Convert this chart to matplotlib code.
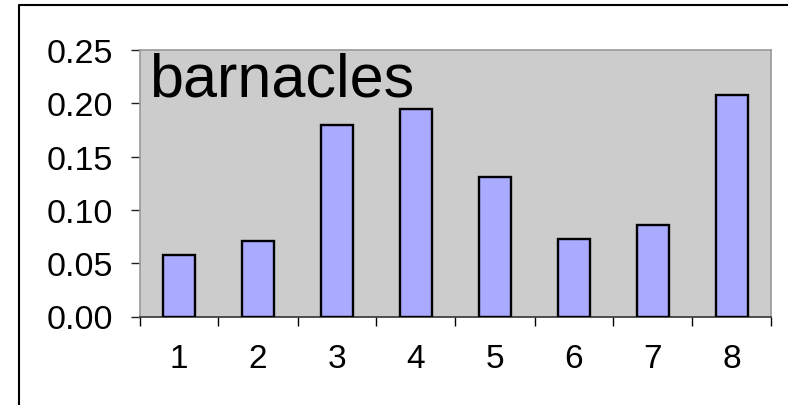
import matplotlib
matplotlib.use('Agg')
import matplotlib.pyplot as plt
from matplotlib.lines import Line2D

plt.rcParams['font.family'] = ['Liberation Sans', 'DejaVu Sans']

# Chart data
categories = [1, 2, 3, 4, 5, 6, 7, 8]
values = [0.058, 0.071, 0.180, 0.195, 0.131, 0.073, 0.086, 0.208]
yticks = [0.00, 0.05, 0.10, 0.15, 0.20, 0.25]
title_text = 'barnacles'


def create_plot():
    fig = plt.figure(figsize=(7.88, 4.06), dpi=100)
    W, H = 788, 406

    # outer chart border: only top and left edges show
    fig.lines.append(Line2D([19 / W, 19 / W, 1.0], [0.0, 1 - 6 / H, 1 - 6 / H],
                            transform=fig.transFigure, color='black', linewidth=1.5))

    ax = fig.add_axes([139.5 / W, 1 - 317.5 / H, (771.5 - 139.5) / W, (317.5 - 51) / H])
    ax.set_facecolor('#cccccc')

    ax.bar(categories, values, width=0.41, color='#aaaaff', edgecolor='black', linewidth=1.7, zorder=3)

    ax.set_xlim(0.5, 8.5)
    ax.set_ylim(0, 0.25)
    ax.set_yticks(yticks)
    ax.set_yticklabels(['{:.2f}'.format(v) for v in yticks])
    ax.set_xticks(categories)
    ax.set_xticks([c + 0.5 for c in [0] + categories], minor=True)
    ax.tick_params(axis='x', which='major', length=0, pad=19, labelsize=24)
    ax.tick_params(axis='x', which='minor', length=6.5, width=1, color='black', direction='out')
    ax.tick_params(axis='y', length=6.8, width=1, color='#222222', pad=12, labelsize=24.5)

    for side in ['top', 'right', 'left']:
        ax.spines[side].set_color('#999999')
        ax.spines[side].set_linewidth(1.2)
    ax.spines['bottom'].set_color('#333333')
    ax.spines['bottom'].set_linewidth(1.2)

    ax.text(0.015, 0.828, title_text, transform=ax.transAxes, fontsize=44,
            ha='left', va='baseline', color='black')

    return fig


if __name__ == "__main__":
    fig = create_plot()
    fig.savefig('out.png', dpi=100)
